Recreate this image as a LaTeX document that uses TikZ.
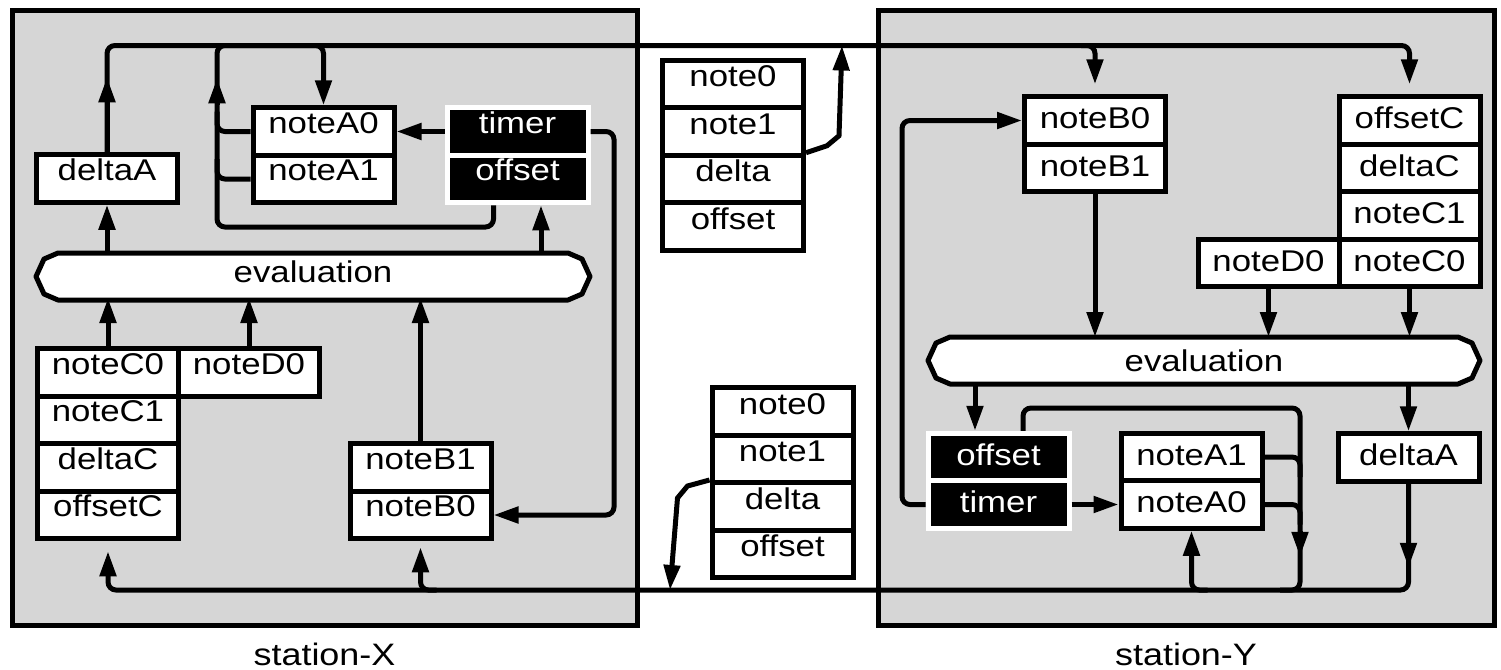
\documentclass[tikz,border=0pt]{standalone}
\usepackage{fontspec}
\setmainfont{Liberation Sans}[FakeStretch=1.16]
\usetikzlibrary{arrows.meta,calc}

\definecolor{panelgray}{RGB}{214,214,214}
\pgfdeclarelayer{panels}
\pgfdeclarelayer{shapes}
\pgfsetlayers{panels,shapes,main}

\tikzset{
  ln/.style={line width=2.5pt},
  tip/.style={-{Triangle[length=12.5pt,width=8pt]}},
  cellbox/.style={draw, fill=white, line width=2.5pt, minimum width=70.5pt,
    minimum height=23.75pt, inner sep=0pt, text height=10.8pt,
    font=\fontsize{15}{18}\selectfont},
  xcell/.style={cellbox, text depth=9pt},
  ycell/.style={cellbox, text depth=2.5pt},
  msgcell/.style={cellbox, text depth=8pt},
  darkcell/.style={fill=black, draw=white, text=white},
  evalnode/.style={minimum width=277pt, minimum height=23.5pt, inner sep=0pt,
    outer sep=0pt, text height=10.8pt, font=\fontsize{15}{18}\selectfont},
  stationframe/.style={draw, fill=panelgray, line width=2.5pt},
  caption/.style={font=\fontsize{15.5}{18}\selectfont, text height=11pt,
    text depth=0pt, inner sep=0pt},
}

% elongated octagon drawn around an evaluation node
\newcommand\evaloutline[1]{%
  \draw[ln, fill=white, line join=round]
    ($(#1.north west)+(22,0)$) -- ($(#1.north east)+(-22,0)$)
    -- ($(#1.north east)+(-8,6)$) -- (#1.east)
    -- ($(#1.south east)+(-8,-6)$) -- ($(#1.south east)+(-22,0)$)
    -- ($(#1.south west)+(22,0)$) -- ($(#1.south west)+(8,-6)$)
    -- (#1.west) -- ($(#1.north west)+(8,6)$) -- cycle;}

\begin{document}
\begin{tikzpicture}[x=0.5pt, y=-0.5pt]
\useasboundingbox (0,0) rectangle (1501,670);

\begin{pgfonlayer}{panels}
  \fill[white] (0,0) rectangle (1501,670);
  \draw[stationframe] (12,10) rectangle (637,625);
  \draw[stationframe] (878,10) rectangle (1494,625);
\end{pgfonlayer}

% ---------------- station X ----------------
\node[xcell] (deltaA) at (107,178.5) {deltaA};
\node[xcell] (noteA0) at (323.5,131.5) {noteA0};
\node[xcell] (noteA1) at (323.5,179) {noteA1};
\node[xcell, darkcell] (timer) at (517.5,131.5) {timer};
\node[xcell, darkcell] (offset) at (517.5,179) {offset};
\node[evalnode, text depth=5pt] (evalX) at (313,276.5) {evaluation};
\node[xcell] (noteC0) at (108,372.5) {noteC0};
\node[xcell] (noteC1) at (108,420) {noteC1};
\node[xcell] (deltaC) at (108,467.5) {deltaC};
\node[xcell] (offsetC) at (108,515) {offsetC};
\node[xcell] (noteD0) at (249,372.5) {noteD0};
\node[xcell] (noteB1) at (420.5,467.5) {noteB1};
\node[xcell] (noteB0) at (420.5,515) {noteB0};

% ---------------- station Y ----------------
\node[ycell] (noteB0Y) at (1095,120.5) {noteB0};
\node[ycell] (noteB1Y) at (1095,168) {noteB1};
\node[ycell] (offsetCY) at (1409.5,120.5) {offsetC};
\node[ycell] (deltaCY) at (1409.5,168) {deltaC};
\node[ycell] (noteC1Y) at (1409.5,215.5) {noteC1};
\node[ycell] (noteC0Y) at (1409.5,263) {noteC0};
\node[ycell] (noteD0Y) at (1268.5,263) {noteD0};
\node[evalnode, text depth=0pt, minimum width=276pt] (evalY) at (1204,360.5) {evaluation};
\node[ycell, darkcell] (offsetY) at (998.5,457) {offset};
\node[ycell, darkcell] (timerY) at (998.5,504.5) {timer};
\node[ycell] (noteA1Y) at (1191.5,457) {noteA1};
\node[ycell] (noteA0Y) at (1191.5,504.5) {noteA0};
\node[ycell] (deltaAY) at (1408.5,457.5) {deltaA};

% ---------------- messages in transit ----------------
\node[msgcell] (m0) at (733,84) {note0};
\node[msgcell] (m1) at (733,131.5) {note1};
\node[msgcell] (m2) at (733,179) {delta};
\node[msgcell] (m3) at (733,226.5) {offset};
\node[msgcell] (b0) at (782.5,411.25) {note0};
\node[msgcell] (b1) at (782.5,458.75) {note1};
\node[msgcell] (b2) at (782.5,506.25) {delta};
\node[msgcell] (b3) at (782.5,553.75) {offset};

\node[caption] (labX) at (324.5,654) {station-X};
\node[caption] (labY) at (1186,654) {station-Y};

\begin{pgfonlayer}{shapes}
  \evaloutline{evalX}
  \evaloutline{evalY}
\end{pgfonlayer}

% routing coordinates
\coordinate (busT) at (0,45.5);
\coordinate (busB) at (0,590);
\coordinate (xloop) at (217,0);
\coordinate (xloopBot) at (0,227);
\coordinate (xright) at (614,0);
\coordinate (xoff) at (541,0);
\coordinate (yloop) at (1300,0);
\coordinate (yloopTop) at (0,408);
\coordinate (yleft) at (902,0);
\coordinate (yoff) at (975,0);
\coordinate (upTip) at (842,45.5);
\coordinate (downTip) at (670,590);

% upper bus: X deltaA -> Y noteB0 / offsetC
\draw[ln, tip, rounded corners=4pt, shorten >=5pt]
  (deltaA.north) |- (offsetCY.north |- busT) -- (offsetCY.north);
\draw[ln, tip] (deltaA.north) -- ++(0,-75);
\draw[ln, tip, rounded corners=4pt, shorten >=5pt]
  ([xshift=-7pt]noteB0Y.north |- busT) -| (noteB0Y.north);

% station X feedback loop
\draw[ln, tip, rounded corners=4pt]
  ([xshift=-12pt]offset.south) |- (xloop |- xloopBot)
  |- (noteA0.north |- busT) -- (noteA0.north);
\draw[ln, tip] (xloop |- noteA0.north) -- ++(0,-27);
\draw[ln, rounded corners=4pt] (noteA0.west) -| ([yshift=10pt]xloop |- noteA0.west);
\draw[ln, rounded corners=4pt] (noteA1.west) -| ([yshift=10pt]xloop |- noteA1.west);
\draw[ln, tip] (timer.west) -- (noteA0.east);
\draw[ln, tip, rounded corners=4pt]
  (timer.east) -| (xright |- noteB0.east) -- (noteB0.east);

% station X evaluation
\draw[ln, tip] (evalX.north -| deltaA) -- (deltaA.south);
\draw[ln, tip] (evalX.north -| xoff) -- (offset.south -| xoff);
\draw[ln, tip, shorten >=-1pt] (noteC0.north) -- (evalX.south -| noteC0);
\draw[ln, tip, shorten >=-1pt] (noteD0.north) -- (evalX.south -| noteD0);
\draw[ln, tip, shorten >=-1pt] (noteB1.north) -- (evalX.south -| noteB1);

% lower bus: Y deltaA -> X offsetC / noteB0
\draw[ln, tip, rounded corners=4pt, shorten >=5pt]
  (deltaAY.south) |- (offsetC.south |- busB) -- (offsetC.south);
\draw[ln, tip] (deltaAY.south) -- ++(0,84);
\draw[ln, tip, rounded corners=4pt, shorten >=3pt]
  ([xshift=8pt]noteB0.south |- busB) -| (noteB0.south);

% station Y evaluation
\draw[ln, tip] (noteB1Y.south) -- (evalY.north -| noteB1Y);
\draw[ln, tip] (noteD0Y.south) -- (evalY.north -| noteD0Y);
\draw[ln, tip] (noteC0Y.south) -- (evalY.north -| noteC0Y);
\draw[ln, tip] (evalY.south -| yoff) -- (offsetY.north -| yoff);
\draw[ln, tip] (evalY.south -| deltaAY) -- (deltaAY.north);

% station Y feedback loop
\draw[ln, rounded corners=4pt]
  ([xshift=12.25pt]offsetY.north) |- (yloop |- yloopTop)
  |- ([xshift=-10pt]yloop |- busB);
\draw[ln, tip] (yloop |- noteA0Y.south) -- ++(0,26);
\draw[ln, rounded corners=4pt] (noteA1Y.east) -| ([yshift=-10pt]yloop |- noteA1Y.east);
\draw[ln, rounded corners=4pt] (noteA0Y.east) -| ([yshift=-10pt]yloop |- noteA0Y.east);
\draw[ln, tip, rounded corners=4pt]
  ([xshift=8pt]noteA0Y.south |- busB) -| (noteA0Y.south);
\draw[ln, tip] (timerY.east) -- (noteA0Y.west);
\draw[ln, tip, rounded corners=4pt]
  (timerY.west) -| (yleft |- noteB0Y.west) -- (noteB0Y.west);

% messages joining the buses
\draw[ln, tip] (m2.north east) -- ++(21,-7) -- ++(12,-10) -- (upTip);
\draw[ln, tip] (b2.north west) -- ++(-22,6) -- ++(-10,12) -- (downTip);

\end{tikzpicture}
\end{document}
